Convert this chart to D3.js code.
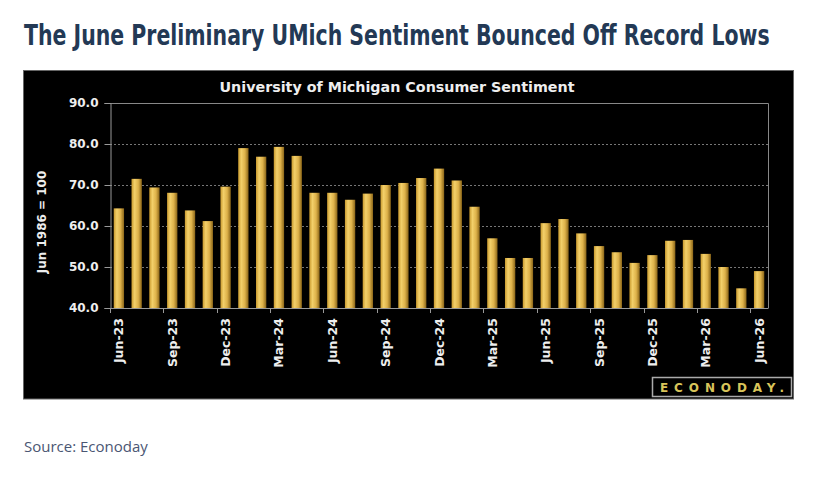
<!DOCTYPE html>
<html>
<head>
<meta charset="utf-8">
<script src="https://cdn.jsdelivr.net/npm/d3@7"></script>
<style>
  body { margin: 0; background: #fff; }
  svg { display: block; }
</style>
</head>
<body>
<div id="chart"></div>
<script>
// monthly readings, Jun-23 .. Jun-26
const months = ["Jun-23","Jul-23","Aug-23","Sep-23","Oct-23","Nov-23","Dec-23",
    "Jan-24","Feb-24","Mar-24","Apr-24","May-24","Jun-24","Jul-24","Aug-24","Sep-24","Oct-24","Nov-24","Dec-24",
    "Jan-25","Feb-25","Mar-25","Apr-25","May-25","Jun-25","Jul-25","Aug-25","Sep-25","Oct-25","Nov-25","Dec-25",
    "Jan-26","Feb-26","Mar-26","Apr-26","May-26","Jun-26"];
const sentiment = [64.3, 71.5, 69.4, 68.1, 63.8, 61.2, 69.6,
    79.0, 76.9, 79.3, 77.1, 68.1, 68.1, 66.4, 67.9, 70.0, 70.5, 71.7, 74.0,
    71.1, 64.7, 57.0, 52.2, 52.2, 60.7, 61.7, 58.2, 55.1, 53.6, 51.0, 52.9,
    56.4, 56.6, 53.2, 50.0, 44.8, 49.0];
const yTicks = [40, 50, 60, 70, 80, 90];

const W = 823, H = 487;
const svg = d3.select("#chart").append("svg")
    .attr("width", W)
    .attr("height", H);

// headline, squeezed horizontally to the reference width
const title = svg.append("text")
    .attr("x", 0)
    .attr("y", 0)
    .attr("font-family", "'DejaVu Sans Condensed', 'DejaVu Sans', sans-serif")
    .attr("font-weight", "bold")
    .attr("font-size", 28)
    .attr("fill", "#233955")
    .text("The June Preliminary UMich Sentiment Bounced Off Record Lows");
const natural = title.node().getComputedTextLength();
title.attr("transform", `translate(24,45) scale(${746 / natural},1)`);

// black panel
svg.append("rect")
    .attr("x", 23.5).attr("y", 70.5)
    .attr("width", 770).attr("height", 328.5)
    .attr("fill", "#000")
    .attr("stroke", "#666").attr("stroke-width", 1);

svg.append("text")
    .attr("x", 397)
    .attr("y", 92)
    .attr("text-anchor", "middle")
    .attr("font-family", "'DejaVu Sans', sans-serif")
    .attr("font-weight", "bold")
    .attr("font-size", 13.5)
    .attr("fill", "#eee")
    .attr("textLength", 355)
    .attr("lengthAdjust", "spacingAndGlyphs")
    .text("University of Michigan Consumer Sentiment");

const margin = {left: 110, right: 768, top: 103, bottom: 308};

const x = d3.scaleBand()
    .domain(months)
    .range([margin.left, margin.right])
    .paddingInner(0.42)
    .paddingOuter(0.21);

const y = d3.scaleLinear()
    .domain([40, 90])
    .range([margin.bottom, margin.top]);

// bar gradient
const defs = svg.append("defs");
const grad = defs.append("linearGradient")
    .attr("id", "gold")
    .attr("x1", "0").attr("x2", "1").attr("y1", "0").attr("y2", "0");
grad.append("stop").attr("offset", "0").attr("stop-color", "#c99a2e");
grad.append("stop").attr("offset", "0.3").attr("stop-color", "#f3d06a");
grad.append("stop").attr("offset", "0.65").attr("stop-color", "#deb24a");
grad.append("stop").attr("offset", "1").attr("stop-color", "#8a6518");

// gridlines
svg.append("g")
    .selectAll("line")
    .data(yTicks.filter(d => d > 40 && d < 90))
    .enter().append("line")
    .attr("x1", margin.left).attr("x2", margin.right)
    .attr("y1", d => y(d) + 0.5).attr("y2", d => y(d) + 0.5)
    .attr("stroke", "#777")
    .attr("stroke-dasharray", "2,2")
    .attr("stroke-width", 1);

// plot frame top/right
svg.append("path")
    .attr("d", `M${margin.left},${margin.top + 0.5}H${margin.right + 0.5}V${margin.bottom}`)
    .attr("fill", "none")
    .attr("stroke", "#888");

// bars
svg.append("g")
    .selectAll("rect")
    .data(sentiment)
    .enter().append("rect")
    .attr("x", (d, i) => x(months[i]))
    .attr("width", x.bandwidth())
    .attr("y", d => y(d))
    .attr("height", d => y(40) - y(d))
    .attr("fill", "url(#gold)");

// y axis
const yAxis = d3.axisLeft(y)
    .tickValues(yTicks)
    .tickFormat(d3.format(".1f"))
    .tickSize(6)
    .tickPadding(6);
const gy = svg.append("g")
    .attr("transform", `translate(${margin.left + 0.5},0)`)
    .call(yAxis);
gy.select(".domain").attr("stroke", "#999");
gy.selectAll(".tick line").attr("stroke", "#999");
gy.selectAll(".tick text")
    .attr("fill", "#eee")
    .attr("font-family", "'DejaVu Sans', sans-serif")
    .attr("font-weight", "bold")
    .attr("font-size", 12);

// x axis: ticks at every third band edge, labels at band centers
const step = x.step();
const tickEdges = d3.range(0, months.length + 1, 3).map(i => margin.left + i * step);
svg.append("line")
    .attr("x1", margin.left).attr("x2", margin.right + 0.5)
    .attr("y1", margin.bottom + 0.5).attr("y2", margin.bottom + 0.5)
    .attr("stroke", "#999");
svg.append("g")
    .selectAll("line")
    .data(tickEdges)
    .enter().append("line")
    .attr("x1", d => Math.round(d) + 0.5).attr("x2", d => Math.round(d) + 0.5)
    .attr("y1", margin.bottom).attr("y2", margin.bottom + 5)
    .attr("stroke", "#999");

svg.append("g")
    .selectAll("text")
    .data(months.filter((m, i) => i % 3 === 0))
    .enter().append("text")
    .attr("transform", d => `translate(${x(d) + x.bandwidth() / 2 + 4.5},${margin.bottom + 10}) rotate(-90)`)
    .attr("text-anchor", "end")
    .attr("font-family", "'DejaVu Sans', sans-serif")
    .attr("font-weight", "bold")
    .attr("font-size", 12.5)
    .attr("fill", "#eee")
    .text(d => d);

// y axis title
svg.append("text")
    .attr("transform", `translate(46,222) rotate(-90)`)
    .attr("text-anchor", "middle")
    .attr("font-family", "'DejaVu Sans', sans-serif")
    .attr("font-weight", "bold")
    .attr("font-size", 12)
    .attr("fill", "#eee")
    .text("Jun 1986 = 100");

// logo box
svg.append("rect")
    .attr("x", 652.5).attr("y", 377.5)
    .attr("width", 139).attr("height", 19)
    .attr("fill", "#000")
    .attr("stroke", "#aaa").attr("stroke-width", 1.5);
svg.append("text")
    .attr("x", 722)
    .attr("y", 392)
    .attr("text-anchor", "middle")
    .attr("font-family", "'DejaVu Sans', sans-serif")
    .attr("font-weight", "bold")
    .attr("font-size", 12)
    .attr("fill", "#d8c45a")
    .attr("textLength", 124)
    .attr("lengthAdjust", "spacing")
    .text("ECONODAY.");

// source
svg.append("text")
    .attr("x", 24)
    .attr("y", 452)
    .attr("font-family", "'Open Sans', sans-serif")
    .attr("font-size", 15)
    .attr("fill", "#4a5673")
    .text("Source: Econoday");
</script>
</body>
</html>
